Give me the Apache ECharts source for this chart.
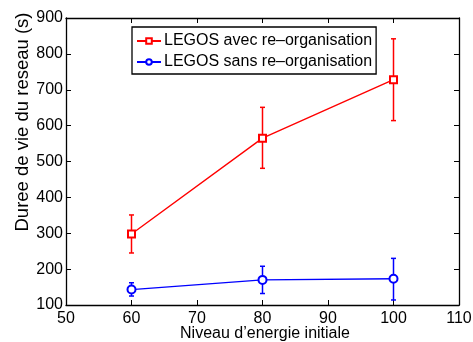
<!DOCTYPE html>
<html><head><meta charset="utf-8">
<script src="https://cdn.jsdelivr.net/npm/echarts@6/dist/echarts.min.js"></script>
<style>html,body{margin:0;padding:0;background:#fff}#c{width:473px;height:342px}</style>
</head><body><div id="c"></div>
<script>
var xValues = [60, 80, 100];
var redMean = [298, 565, 728];
var redLow = [245, 481, 614];
var redHigh = [351, 651, 842];
var blueMean = [143, 170, 173];
var blueLow = [125, 132, 114];
var blueHigh = [162, 208, 230];
var xTicks = [50, 60, 70, 80, 90, 100, 110];
var yTicks = [100, 200, 300, 400, 500, 600, 700, 800, 900];
var seriesNames = ['LEGOS avec re\u2013organisation', 'LEGOS sans re\u2013organisation'];
var xName = 'Niveau d\u2019energie initiale';
var yName = 'Duree de vie du reseau (s)';

var font = 'Liberation Sans, Arial, Helvetica, sans-serif';
function pts(m) { return xValues.map(function (x, i) { return [x, m[i]]; }); }
function errData(lo, hi) { return xValues.map(function (x, i) { return [x, lo[i], hi[i]]; }); }
function errRender(color) {
  return function (params, api) {
    var p1 = api.coord([api.value(0), api.value(1)]);
    var p2 = api.coord([api.value(0), api.value(2)]);
    var w = 2.5;
    var st = { stroke: color, lineWidth: 1.5 };
    return { type: 'group', children: [
      { type: 'line', shape: { x1: p1[0], y1: p1[1], x2: p2[0], y2: p2[1] }, style: st },
      { type: 'line', shape: { x1: p1[0] - w, y1: p1[1], x2: p1[0] + w, y2: p1[1] }, style: st },
      { type: 'line', shape: { x1: p2[0] - w, y1: p2[1], x2: p2[0] + w, y2: p2[1] }, style: st }
    ]};
  };
}
var chart = echarts.init(document.getElementById('c'));
var axisCommon = {
  axisLine: { show: true, lineStyle: { color: '#000', width: 1.3 } },
  axisTick: { show: true, inside: true, length: 5, lineStyle: { color: '#000' } },
  splitLine: { show: false }
};
chart.setOption({
  animation: false,
  backgroundColor: '#fff',
  grid: { left: 66, right: 14, top: 18, bottom: 37, containLabel: false, outerBoundsMode: 'none' },
  legend: {
    left: 132, top: 27, orient: 'vertical',
    data: seriesNames,
    backgroundColor: '#fff', borderColor: '#000', borderWidth: 1.3, borderRadius: 0,
    padding: [6, 4, 4, 4], itemGap: 5, itemWidth: 24, itemHeight: 7,
    textStyle: { fontFamily: font, fontSize: 16, color: '#000', padding: [0, 0, 0, -2] }
  },
  xAxis: [
    Object.assign({ type: 'value', min: xTicks[0], max: xTicks[xTicks.length - 1], interval: 10,
      axisLabel: { fontFamily: font, fontSize: 16, color: '#000', margin: 6 } }, axisCommon),
    Object.assign({ type: 'value', position: 'top', min: xTicks[0], max: xTicks[xTicks.length - 1], interval: 10,
      axisLabel: { show: false } }, axisCommon)
  ],
  yAxis: [
    Object.assign({ type: 'value', min: yTicks[0], max: yTicks[yTicks.length - 1], interval: 100,
      axisLabel: { fontFamily: font, fontSize: 16, color: '#000', margin: 3 } }, axisCommon),
    Object.assign({ type: 'value', position: 'right', min: yTicks[0], max: yTicks[yTicks.length - 1], interval: 100,
      axisLabel: { show: false } }, axisCommon)
  ],
  graphic: [{
    type: 'text', x: 23, y: 122, rotation: Math.PI / 2,
    style: { text: yName, fontFamily: font, fontSize: 18.5, fill: '#000', align: 'center', verticalAlign: 'middle' }
  }, {
    type: 'text', x: 265, y: 334,
    style: { text: xName, fontFamily: font, fontSize: 16, fill: '#000', align: 'center', verticalAlign: 'middle' }
  }],
  series: [
    { name: seriesNames[0], type: 'line', data: pts(redMean), symbol: 'emptyRect', symbolSize: 7,
      color: '#ff0000', lineStyle: { width: 1.4, color: '#ff0000' }, itemStyle: { color: '#ff0000', borderWidth: 1.4 }, z: 3 },
    { name: seriesNames[1], type: 'line', data: pts(blueMean), symbol: 'emptyCircle', symbolSize: 8,
      color: '#0000ff', lineStyle: { width: 1.4, color: '#0000ff' }, itemStyle: { color: '#0000ff', borderWidth: 1.4 }, z: 3 },
    { type: 'custom', data: errData(redLow, redHigh), renderItem: errRender('#ff0000'), z: 2, encode: { x: 0, y: [1, 2] } },
    { type: 'custom', data: errData(blueLow, blueHigh), renderItem: errRender('#0000ff'), z: 2, encode: { x: 0, y: [1, 2] } }
  ]
});
</script></body></html>
